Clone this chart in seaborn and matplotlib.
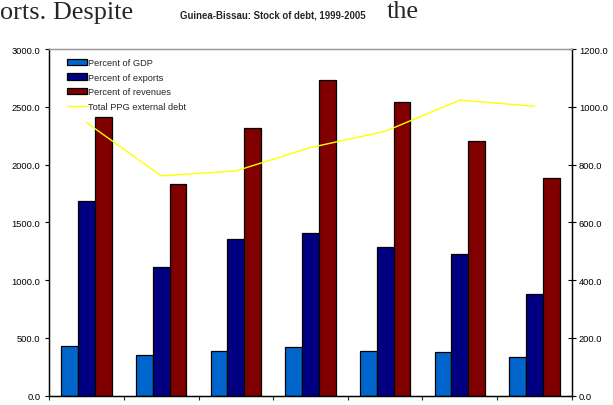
import numpy as np
import pandas as pd
import matplotlib
matplotlib.use("Agg")
import matplotlib.pyplot as plt
import seaborn as sns
from matplotlib.patches import Patch
from matplotlib.lines import Line2D

# Guinea-Bissau debt stock indicators, 1999-2005
years = [1999, 2000, 2001, 2002, 2003, 2004, 2005]
pct_gdp = [430, 350, 390, 419, 384, 378, 332]
pct_exports = [1683, 1112, 1355, 1404, 1291, 1225, 879]
pct_revenues = [2415, 1836, 2317, 2735, 2545, 2204, 1884]
ppg_debt = [945, 761, 778, 859, 915, 1023, 1002]

series_names = ["Percent of GDP", "Percent of exports", "Percent of revenues"]
line_name = "Total PPG external debt"
bar_colors = ["#0066CC", "#000080", "#800000"]
line_color = "#FFFF00"

df = pd.DataFrame({
    "year": years * 3,
    "series": np.repeat(series_names, len(years)),
    "value": pct_gdp + pct_exports + pct_revenues,
})

sns.set_style("white")
plt.rcParams["font.family"] = ["Liberation Sans", "DejaVu Sans"]

fig = plt.figure(figsize=(6.13, 4.06), dpi=100)
ax = fig.add_axes([0.0804, 0.0229, 0.9326 - 0.0804, 0.8768 - 0.0229])

sns.barplot(data=df, x="year", y="value", hue="series", hue_order=series_names,
            palette=bar_colors, width=0.675, gap=0, edgecolor="black",
            linewidth=0.9, saturation=1, legend=False, ax=ax)

ax.set_xlim(-0.5, len(years) - 0.5)
ax.set_ylim(0, 3000)
ax.set_yticks(np.arange(0, 3001, 500))
ax.set_yticklabels([f"{v:.1f}" for v in np.arange(0, 3001, 500)])
ax.set_xticks(np.arange(-0.5, len(years), 1))
ax.set_xticklabels([])
ax.set_xlabel("")
ax.set_ylabel("")
ax.tick_params(axis="y", direction="out", length=3, width=0.8, pad=3.5,
               labelsize=6.7, colors="black", left=True)
ax.tick_params(axis="x", direction="out", length=3, width=0.8, bottom=True)

ax2 = ax.twinx()
sns.lineplot(x=np.arange(len(years)), y=ppg_debt, color=line_color,
             linewidth=1.0, ax=ax2, legend=False)
ax2.set_ylim(0, 1200)
ax2.set_yticks(np.arange(0, 1201, 200))
ax2.set_yticklabels([f"{v:.1f}" for v in np.arange(0, 1201, 200)])
ax2.tick_params(axis="y", direction="inout", length=5.5, width=0.8, pad=2.5,
                labelsize=6.7, colors="black", right=True)
ax2.set_ylabel("")

for a in (ax, ax2):
    for side in ("left", "right", "bottom"):
        a.spines[side].set_color("black")
        a.spines[side].set_linewidth(0.9)
    a.spines["top"].set_color("#999999")
    a.spines["top"].set_linewidth(0.9)

handles = [Patch(facecolor=c, edgecolor="black", linewidth=0.9) for c in bar_colors]
handles.append(Line2D([0], [0], color=line_color, linewidth=1.0))
ax2.legend(handles, series_names + [line_name], loc="upper left",
           bbox_to_anchor=(0.109, 0.854), bbox_transform=fig.transFigure,
           frameon=False, fontsize=6.7, borderpad=0, borderaxespad=0,
           handlelength=2.15, handleheight=0.65, handletextpad=0.15,
           labelspacing=0.6)

fig.text(272.5 / 613, 1 - 15 / 406, "Guinea-Bissau: Stock of debt, 1999-2005",
         ha="center", va="center", fontsize=6.9, fontweight="bold")
fig.text(0.0, 1 - 18.5 / 406, "orts. Despite", ha="left", va="baseline",
         fontsize=18.9, family=["Liberation Serif", "DejaVu Serif"])
fig.text(387 / 613, 1 - 18.5 / 406, "the", ha="left", va="baseline",
         fontsize=18.9, family=["Liberation Serif", "DejaVu Serif"])

fig.savefig("out.png", dpi=100)
